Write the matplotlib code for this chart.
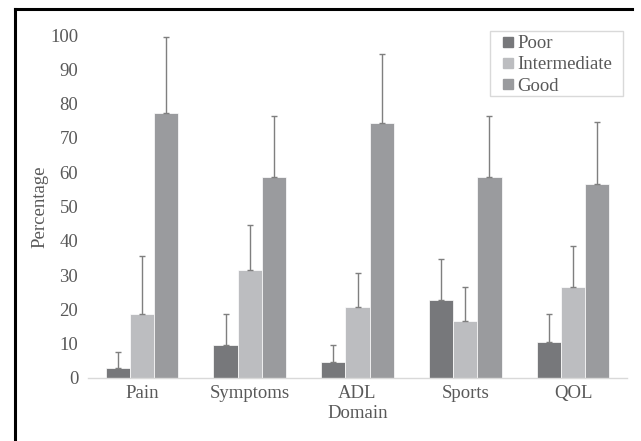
import matplotlib
matplotlib.use("Agg")
import matplotlib.pyplot as plt
from matplotlib.lines import Line2D
from matplotlib.patches import Rectangle
import numpy as np

categories = ["Pain", "Symptoms", "ADL", "Sports", "QOL"]
series = ["Poor", "Intermediate", "Good"]
poor = [2.8, 9.7, 4.8, 22.6, 10.6]
intermediate = [18.6, 31.6, 20.6, 16.7, 26.6]
good = [77.4, 58.5, 74.4, 58.5, 56.5]
poor_err = [4.9, 9.0, 4.9, 12.0, 8.0]
intermediate_err = [17.0, 13.0, 10.0, 9.9, 12.0]
good_err = [22.0, 18.0, 20.0, 18.0, 18.0]
colors = ["#77787b", "#bcbdc0", "#9a9b9e"]

plt.rcParams['font.family'] = ['Liberation Serif', 'DejaVu Serif']
txt = "#595959"
fs = 13.5
W, H = 641, 441

fig = plt.figure(figsize=(6.41, 4.41), dpi=100)
ax = fig.add_axes([88 / W, 1 - 378 / H, 539 / W, 343 / H])

x = np.arange(len(categories))
w = 0.224
vals = [poor, intermediate, good]
errs = [poor_err, intermediate_err, good_err]
for i, (v, e, c, name) in enumerate(zip(vals, errs, colors, series)):
    ax.bar(x + (i - 1) * w, v, width=w, color=c, edgecolor="white", linewidth=0.5,
           yerr=[np.zeros(len(e)), e], capsize=2.3,
           error_kw=dict(ecolor="#7f7f7f", elinewidth=1.0, capthick=1.0), label=name)

ax.set_xlim(-0.5, len(categories) - 0.5)
ax.set_ylim(0, 100)
ax.set_yticks(range(0, 101, 10))
ax.set_xticks(x)
ax.set_xticklabels(categories)
for s in ["top", "right", "left"]:
    ax.spines[s].set_visible(False)
ax.spines["bottom"].set_color("#d9d9d9")
ax.spines["bottom"].set_linewidth(1.0)
ax.tick_params(axis="both", length=0, labelsize=fs, colors=txt)
ax.tick_params(axis="y", pad=7)
ax.tick_params(axis="x", pad=5)
ax.set_ylabel("Percentage", fontsize=fs, color=txt)
ax.yaxis.set_label_coords((48 - 88) / 539, 0.5)
ax.set_xlabel("Domain", fontsize=fs, color=txt, labelpad=2)

handles = [Line2D([0], [0], marker="s", linestyle="none", markersize=6.5,
                  markerfacecolor=c, markeredgecolor=c) for c in colors]
leg = fig.legend(handles, series, loc="upper left",
                 bbox_to_anchor=(501.5 / W, 1 - 35 / H), bbox_transform=fig.transFigure,
                 fontsize=fs, frameon=False, handlelength=0.7,
                 handletextpad=0.15, labelspacing=0.22, borderpad=0.0, borderaxespad=0.0)
for t in leg.get_texts():
    t.set_color(txt)
fig.add_artist(Rectangle((490 / W, 1 - 96 / H), 133 / W, 65 / H, transform=fig.transFigure,
                         fill=False, edgecolor="#d9d9d9", linewidth=1.0))

# figure border lines (left and top)
fig.add_artist(Line2D([15 / W, 15 / W], [0, 1 - 9 / H], transform=fig.transFigure,
                      color="black", linewidth=2.2))
fig.add_artist(Line2D([15 / W, 632 / W], [1 - 9 / H, 1 - 9 / H], transform=fig.transFigure,
                      color="black", linewidth=2.2))

fig.savefig("out.png", dpi=100)
